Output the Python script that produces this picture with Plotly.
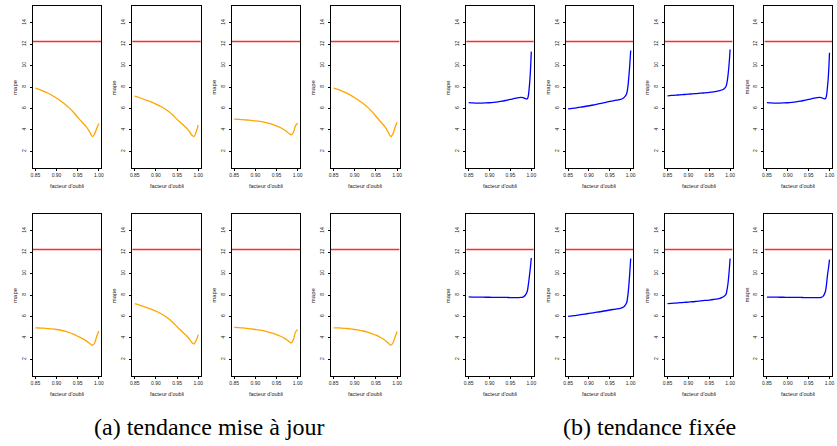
import plotly.graph_objects as go

# Forgetting-factor grids
facteur_maj = [0.85, 0.86, 0.87, 0.88, 0.89, 0.90, 0.91, 0.92, 0.93, 0.94, 0.95,
               0.96, 0.97, 0.975, 0.98, 0.985, 0.99, 0.995, 1.00]
facteur_fixe = [0.85, 0.86, 0.87, 0.88, 0.89, 0.90, 0.91, 0.92, 0.93, 0.94, 0.95,
                0.96, 0.97, 0.975, 0.98, 0.985, 0.99, 0.9925, 0.995, 0.9975, 1.00]

# MAPE, updated trend (orange curves), row-major order
mape_maj_1 = [7.90, 7.76, 7.60, 7.42, 7.21, 6.97, 6.70, 6.40, 6.05, 5.64, 5.18, 4.73, 4.30, 4.03, 3.68, 3.38, 3.62, 4.15, 4.60]
mape_maj_2 = [7.15, 7.02, 6.88, 6.73, 6.58, 6.41, 6.21, 5.99, 5.72, 5.38, 4.98, 4.62, 4.25, 4.05, 3.80, 3.50, 3.38, 3.80, 4.45]
mape_maj_3 = [5.00, 4.98, 4.95, 4.92, 4.88, 4.84, 4.79, 4.72, 4.63, 4.52, 4.38, 4.20, 3.96, 3.81, 3.64, 3.53, 3.78, 4.40, 4.62]
mape_maj_4 = [7.90, 7.77, 7.62, 7.45, 7.24, 7.00, 6.74, 6.45, 6.12, 5.72, 5.27, 4.80, 4.35, 4.07, 3.70, 3.38, 3.60, 4.20, 4.70]
mape_maj_5 = [4.94, 4.92, 4.90, 4.87, 4.83, 4.78, 4.71, 4.62, 4.50, 4.34, 4.15, 3.95, 3.72, 3.58, 3.43, 3.31, 3.52, 4.15, 4.65]
mape_maj_6 = [7.20, 7.07, 6.93, 6.79, 6.65, 6.50, 6.30, 6.07, 5.79, 5.44, 5.04, 4.66, 4.28, 4.08, 3.84, 3.56, 3.44, 3.75, 4.30]
mape_maj_7 = [4.98, 4.96, 4.93, 4.89, 4.84, 4.78, 4.72, 4.65, 4.55, 4.44, 4.31, 4.15, 3.93, 3.80, 3.64, 3.53, 3.85, 4.55, 4.75]
mape_maj_8 = [4.94, 4.93, 4.91, 4.88, 4.84, 4.78, 4.72, 4.64, 4.53, 4.40, 4.25, 4.06, 3.82, 3.66, 3.48, 3.32, 3.50, 4.05, 4.60]

# MAPE, fixed trend (blue curves), row-major order
mape_fixe_1 = [6.55, 6.52, 6.50, 6.50, 6.51, 6.53, 6.57, 6.62, 6.68, 6.76, 6.84, 6.93, 7.00, 7.03, 7.01, 6.93, 6.88, 7.10, 7.90, 9.20, 11.30]
mape_fixe_2 = [5.95, 6.00, 6.06, 6.12, 6.18, 6.25, 6.32, 6.40, 6.48, 6.56, 6.65, 6.73, 6.80, 6.84, 6.90, 7.05, 7.35, 7.80, 8.70, 9.90, 11.40]
mape_fixe_3 = [7.18, 7.21, 7.24, 7.27, 7.30, 7.33, 7.36, 7.39, 7.42, 7.46, 7.50, 7.55, 7.62, 7.66, 7.72, 7.82, 8.05, 8.40, 9.10, 10.10, 11.50]
mape_fixe_4 = [6.55, 6.52, 6.50, 6.50, 6.51, 6.53, 6.57, 6.62, 6.68, 6.76, 6.84, 6.93, 7.00, 7.03, 7.01, 6.94, 6.90, 7.15, 7.95, 9.15, 11.20]
mape_fixe_5 = [7.82, 7.81, 7.80, 7.80, 7.79, 7.79, 7.78, 7.78, 7.77, 7.77, 7.76, 7.76, 7.76, 7.77, 7.80, 7.95, 8.30, 8.85, 9.60, 10.45, 11.45]
mape_fixe_6 = [6.00, 6.05, 6.10, 6.16, 6.22, 6.28, 6.34, 6.40, 6.46, 6.53, 6.60, 6.66, 6.72, 6.76, 6.82, 6.95, 7.25, 7.75, 8.65, 9.90, 11.40]
mape_fixe_7 = [7.19, 7.22, 7.25, 7.28, 7.31, 7.34, 7.37, 7.41, 7.45, 7.49, 7.53, 7.58, 7.64, 7.68, 7.75, 7.86, 8.06, 8.45, 9.10, 10.10, 11.40]
mape_fixe_8 = [7.81, 7.80, 7.80, 7.79, 7.79, 7.78, 7.78, 7.77, 7.77, 7.76, 7.76, 7.75, 7.75, 7.76, 7.78, 7.90, 8.30, 8.90, 9.80, 10.50, 11.30]

# Reference MAPE level (horizontal red line)
mape_ref = 12.25

x_ticks = [0.85, 0.90, 0.95, 1.00]
x_ticktext = ["0.85", "0.90", "0.95", "1.00"]
y_ticks = [2, 4, 6, 8, 10, 12, 14]
y_ticktext = ["2", "4", "6", "8", "10", "12", "14"]

titre_x = "facteur d'oubli"
titre_y = "mape"
legende_a = "(a) tendance mise à jour"
legende_b = "(b) tendance fixée"

W, H = 837, 446
col_left = [31, 131, 231, 331, 467, 567, 667, 767]
col_w = [69, 69, 69, 69, 68, 68, 68, 68]
row_top = [6, 214]
row_h = 162

panels = []
maj = [mape_maj_1, mape_maj_2, mape_maj_3, mape_maj_4,
       mape_maj_5, mape_maj_6, mape_maj_7, mape_maj_8]
fixe = [mape_fixe_1, mape_fixe_2, mape_fixe_3, mape_fixe_4,
        mape_fixe_5, mape_fixe_6, mape_fixe_7, mape_fixe_8]
for i, ys in enumerate(maj):
    panels.append((facteur_maj, ys, "#FFA500", i % 4, i // 4))
for i, ys in enumerate(fixe):
    panels.append((facteur_fixe, ys, "#0000FF", 4 + i % 4, i // 4))

fig = go.Figure()
layout = dict(
    width=W, height=H,
    margin=dict(l=0, r=0, t=0, b=0),
    paper_bgcolor="white", plot_bgcolor="white",
    showlegend=False,
    font=dict(family="Liberation Sans, Arial, sans-serif", color="#222222"),
)
annotations = []

for k, (xs, ys, color, col, row) in enumerate(panels, start=1):
    xa = "x" if k == 1 else f"x{k}"
    ya = "y" if k == 1 else f"y{k}"
    left = col_left[col]
    right = left + col_w[col]
    top = row_top[row]
    bottom = top + row_h
    # reference level drawn as a trace spanning the full x range
    fig.add_trace(go.Scatter(
        x=[0.844, 1.006], y=[mape_ref, mape_ref], mode="lines",
        xaxis=xa, yaxis=ya, line=dict(color="#FF2A2A", width=1.5),
        hoverinfo="skip",
    ))
    fig.add_trace(go.Scatter(
        x=xs, y=ys, mode="lines", xaxis=xa, yaxis=ya,
        line=dict(color=color, width=1.3, shape="spline", smoothing=1.0),
        hoverinfo="skip",
    ))
    common = dict(
        showline=True, mirror=True, linecolor="black", linewidth=1,
        ticks="outside", ticklen=2, tickwidth=0.8, tickcolor="black",
        showgrid=False, zeroline=False, fixedrange=True,
        tickfont=dict(size=5, color="#222222"),
    )
    layout["xaxis" if k == 1 else f"xaxis{k}"] = dict(
        domain=[left / W, right / W], range=[0.844, 1.006],
        tickvals=x_ticks, ticktext=x_ticktext, anchor=ya, **common,
    )
    layout["yaxis" if k == 1 else f"yaxis{k}"] = dict(
        domain=[1 - bottom / H, 1 - top / H], range=[0.44, 15.56],
        tickvals=y_ticks, ticktext=y_ticktext, tickangle=-90, anchor=xa,
        ticklabelstandoff=2, **common,
    )
    annotations.append(dict(
        text=titre_y, xref="paper", yref="paper",
        x=(left - 18) / W, y=1 - (top + row_h / 2) / H,
        textangle=-90, showarrow=False, font=dict(size=6, color="#222222"),
        xanchor="center", yanchor="middle",
    ))
    annotations.append(dict(
        text=titre_x, xref="paper", yref="paper",
        x=(left + right) / 2 / W, y=1 - (bottom + 18) / H,
        showarrow=False, font=dict(size=5.5, color="#222222"),
        xanchor="center", yanchor="middle",
    ))

serif = dict(family="Liberation Serif, DejaVu Serif, serif", size=24, color="black")
annotations.append(dict(text=legende_a, xref="paper", yref="paper",
                        x=209 / W, y=1 - 427 / H, showarrow=False, font=serif,
                        xanchor="center", yanchor="middle"))
annotations.append(dict(text=legende_b, xref="paper", yref="paper",
                        x=651 / W, y=1 - 427 / H, showarrow=False, font=serif,
                        xanchor="center", yanchor="middle"))

layout["annotations"] = annotations
fig.update_layout(**layout)
fig.write_html("out.html")
